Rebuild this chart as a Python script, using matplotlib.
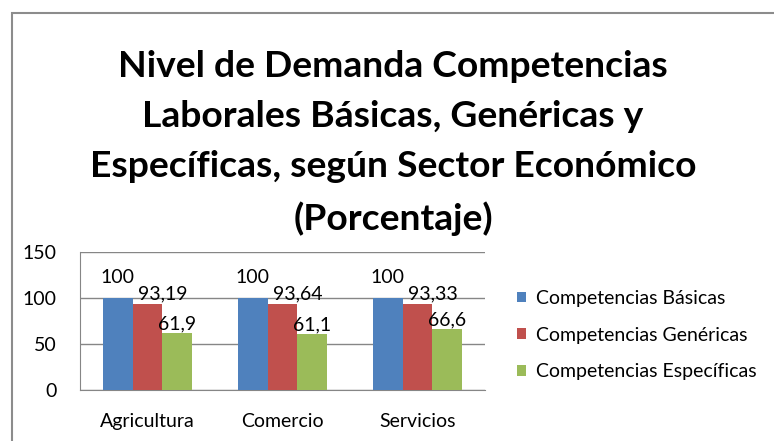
import numpy as np
import matplotlib
matplotlib.use("Agg")
import matplotlib.pyplot as plt
from matplotlib.patches import Rectangle

# data
sectores = ["Agricultura", "Comercio", "Servicios"]
series = ["Competencias Básicas", "Competencias Genéricas", "Competencias Específicas"]
basicas = [100, 100, 100]
genericas = [93.19, 93.64, 93.33]
especificas = [61.9, 61.1, 66.6]
etiquetas_basicas = ["100", "100", "100"]
etiquetas_genericas = ["93,19", "93,64", "93,33"]
etiquetas_especificas = ["61,9", "61,1", "66,6"]
yticks = [0, 50, 100, 150]

colores = ["#4F81BD", "#C0504D", "#9BBB59"]
titulo = ("Nivel de Demanda Competencias\n"
          "Laborales Básicas, Genéricas y\n"
          "Específicas, según Sector Económico\n"
          "(Porcentaje)")

plt.rcParams['font.family'] = ['Lato', 'DejaVu Sans']

W, H = 774, 441
fig = plt.figure(figsize=(W / 100, H / 100), dpi=100)

# outer chart border (left and top visible only)
fig.patches.append(Rectangle((12 / W, -0.1), 1.2, 1 - 13 / H + 0.1,
                             transform=fig.transFigure, fill=False,
                             edgecolor="#8c8c8c", linewidth=1.5))

fig.text(393 / W, 1 - 143 / H, titulo, ha="center", va="center",
         fontsize=26.8, fontweight="bold", linespacing=1.63, color="black")

ax = fig.add_axes([80 / W, 1 - 390 / H, 405 / W, 138 / H])

x = np.arange(len(sectores))
ancho = 0.222
todas = [basicas, genericas, especificas]
etiquetas = [etiquetas_basicas, etiquetas_genericas, etiquetas_especificas]
# label offsets in points (x, y), as Excel placed them
offsets = [(0, 11), (11, 3.5), (0, 2.7)]

for i, (vals, labs) in enumerate(zip(todas, etiquetas)):
    pos = x + (i - 1) * ancho
    ax.bar(pos, vals, width=ancho, color=colores[i], label=series[i], zorder=3)
    for px, v, t in zip(pos, vals, labs):
        ax.annotate(t, (px, v), xytext=offsets[i], textcoords="offset points",
                    ha="center", va="baseline", fontsize=14, zorder=4)

ax.set_xlim(-0.5, 2.5)
ax.set_ylim(0, 150)
ax.set_yticks(yticks)
ax.set_xticks(x)
ax.set_xticklabels(sectores)
ax.tick_params(axis="both", length=0, labelsize=14)
ax.tick_params(axis="y", pad=17)
ax.tick_params(axis="x", pad=16.5)
ax.grid(axis="y", color="#868686", linewidth=1, zorder=0)
for s in ["top", "right"]:
    ax.spines[s].set_visible(False)
ax.spines["left"].set_color("#868686")
ax.spines["bottom"].set_color("#868686")

ax.legend(loc="center left", bbox_to_anchor=(517 / W, 1 - 335 / H),
          bbox_transform=fig.transFigure, frameon=False, fontsize=14,
          handlelength=0.45, handleheight=0.45, handletextpad=0.55,
          labelspacing=1.02, borderaxespad=0, borderpad=0)

fig.savefig("out.png", dpi=100)
